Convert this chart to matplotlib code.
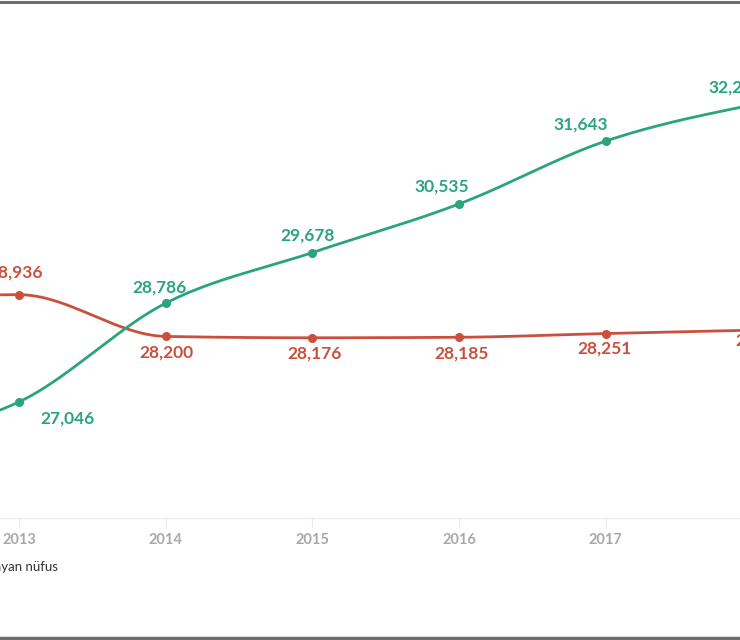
import numpy as np
import matplotlib
matplotlib.use('Agg')
import matplotlib.pyplot as plt
from matplotlib.lines import Line2D

years = [2012, 2013, 2014, 2015, 2016, 2017, 2018]
green_vals = [26360, 27046, 28786, 29678, 30535, 31643, 32280]
red_vals = [28800, 28936, 28200, 28176, 28185, 28251, 28310]
legend_label = 'Çalışmayan nüfus'

GREEN = '#2aa57a'
RED = '#c9503e'

# label offsets in pixels (dx, dy), dy positive = up
green_off = [(0, -20), (48, -17), (-6, 16), (-5, 17), (-17, 17), (-25, 17), (-17, 17)]
red_off = [(0, 22), (-3, 22), (1, -16), (2, -16), (2, -16), (-1, -15), (10, -10)]


def monotone_x(x, y, n=60):
    # d3 curveMonotoneX style interpolation for drawing
    x = np.asarray(x, float)
    y = np.asarray(y, float)
    h = np.diff(x)
    s = np.diff(y) / h
    t = np.zeros_like(y)
    for i in range(1, len(x) - 1):
        p = (s[i - 1] * h[i] + s[i] * h[i - 1]) / (h[i - 1] + h[i])
        t[i] = (np.sign(s[i - 1]) + np.sign(s[i])) * min(abs(s[i - 1]), abs(s[i]), 0.5 * abs(p))
    t[0] = (3 * s[0] - t[1]) / 2
    t[-1] = (3 * s[-1] - t[-2]) / 2
    xs, ys = [], []
    for i in range(len(x) - 1):
        u = np.linspace(0, 1, n)
        h00 = 2 * u**3 - 3 * u**2 + 1
        h10 = u**3 - 2 * u**2 + u
        h01 = -2 * u**3 + 3 * u**2
        h11 = u**3 - u**2
        xs.append(x[i] + u * h[i])
        ys.append(h00 * y[i] + h10 * h[i] * t[i] + h01 * y[i + 1] + h11 * h[i] * t[i + 1])
    return np.concatenate(xs), np.concatenate(ys)


plt.rcParams['font.family'] = ['Lato', 'DejaVu Sans']
fig = plt.figure(figsize=(7.4, 6.4), dpi=100)
ax = fig.add_axes([0, 122 / 640, 1, 518 / 640])

for vals, color, offs, z in [(red_vals, RED, red_off, 3), (green_vals, GREEN, green_off, 4)]:
    cx, cy = monotone_x(years, vals)
    ax.plot(cx, cy, color=color, lw=2.0, zorder=z)
    ax.plot(years, vals, 'o', color=color, ms=5.5, zorder=z)
    for yr, v, (dx, dy) in zip(years, vals, offs):
        ax.annotate(f'{v:,}', (yr, v), xytext=(dx, dy), textcoords='offset pixels',
                    ha='center', va='center', color=color, fontsize=12.5,
                    fontweight='bold', zorder=5, annotation_clip=False)

for s in ['top', 'left', 'right']:
    ax.spines[s].set_visible(False)
ax.spines['bottom'].set_color('#ebebeb')
ax.spines['bottom'].set_linewidth(1.0)
ax.set_yticks([])
ax.set_xticks(years)
ax.set_xticklabels([str(y) for y in years])
ax.tick_params(axis='x', length=7, width=0.8, color='#ebebeb', pad=4,
               labelsize=10.5, labelcolor='#a8a8a8')
for lab in ax.get_xticklabels():
    lab.set_fontweight('bold')
ax.set_xlim(2013 - 19 / 146.7, 2013 + 721 / 146.7)
ax.set_ylim(25000, 34129)

fig.text(58 / 740, 1 - 567 / 640, legend_label, ha='right', va='center',
         fontsize=9.5, color='#333333')

fig.add_artist(Line2D([0, 1], [1 - 1.5 / 640, 1 - 1.5 / 640], color='#6e6e6e', lw=2.2))
fig.add_artist(Line2D([0, 1], [2 / 640, 2 / 640], color='#6e6e6e', lw=2.5))

fig.savefig('out.png', dpi=100)
